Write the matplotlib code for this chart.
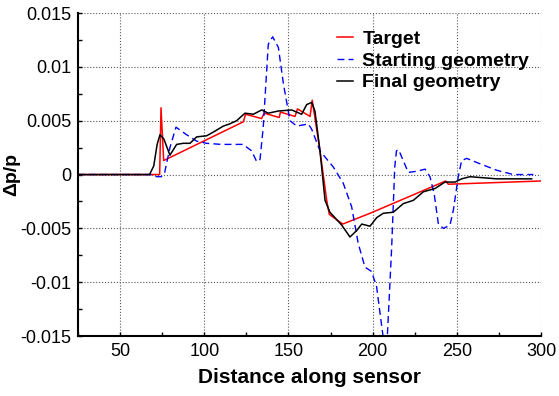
import matplotlib
matplotlib.use("Agg")
import matplotlib.pyplot as plt
from matplotlib.ticker import MultipleLocator, FuncFormatter

plt.rcParams["font.family"] = ["Liberation Sans", "DejaVu Sans"]
plt.rcParams["axes.unicode_minus"] = False

# Target pressure distribution
target_x = [25, 73.5, 74.3, 75.9, 123.2, 124.5, 134.0, 135.5, 144.5, 145.2,
            153.9, 155.3, 162.8, 164.1, 168.7, 172.7, 174.2, 182.2, 198.4,
            243.3, 244.9, 300]
target_y = [0, 0, 0.0062, 0.0013, 0.0049, 0.0056, 0.0052, 0.0057, 0.0053, 0.0058,
            0.0054, 0.0061, 0.0054, 0.0069, 0.0022, -0.0024, -0.0037, -0.0046, -0.0036,
            -0.0006, -0.0009, -0.0006]

# Starting geometry
start_x = [25, 68, 71.7, 74.5, 76.5, 79.6, 83.2, 89.5, 95.5, 101.4, 110, 123,
           128.1, 131.1, 133.1, 135.0, 138.0, 140.6, 144.0, 147.0, 150.9, 154.9,
           161.8, 163.8, 168.7, 176.6, 182.5, 187.5, 191.4, 195.4, 199.3, 202.3,
           205.2, 208.0, 211.2, 213.1, 214.1, 215.4, 221.1, 226.0, 231.1, 234.0,
           236.5, 239.0, 242.0, 245.9, 247.9, 250.8, 252.8, 255.8, 263.7, 273.6,
           283.5, 295.4]
start_y = [0, 0, -0.0002, -0.0002, 0.0002, 0.0025, 0.0044, 0.0037, 0.0031, 0.0029,
           0.0028, 0.0028, 0.0022, 0.0012, 0.0014, 0.0044, 0.0121, 0.0128, 0.0118,
           0.0084, 0.0050, 0.0045, 0.0047, 0.0042, 0.0022, 0.0007, -0.0008, -0.0030,
           -0.0064, -0.0086, -0.0090, -0.0104, -0.0139, -0.0172, -0.0070, 0.0007,
           0.0022, 0.0023, 0.0002, 0.0003, 0.0005, -0.0002, -0.0018, -0.0046, -0.0050,
           -0.0047, -0.0033, -0.0002, 0.0013, 0.0015, 0.0010, 0.0004, 0.0, 0.0]

# Final geometry
final_x = [25, 67.5, 70, 72, 73.7, 76, 79.6, 83.6, 87.5, 91.5, 95.5, 101.4, 106,
           111.3, 115, 119.2, 122, 124.2, 129.1, 134.1, 138.0, 143.9, 151.9, 157.8,
           160.8, 163.8, 165.7, 168.7, 171.7, 174.6, 181.6, 186.5, 190.5, 193.5,
           198.4, 202.4, 206.3, 212.2, 218.2, 224.1, 230.1, 237.0, 242.9, 248.9,
           252.8, 257.8, 273.6, 294.4]
final_y = [0, 0, 0.0008, 0.0028, 0.0037, 0.0033, 0.0018, 0.0028, 0.0029, 0.0029,
           0.0035, 0.0036, 0.0040, 0.0045, 0.0047, 0.0050, 0.0054, 0.0057, 0.0056,
           0.0060, 0.0057, 0.0059, 0.0060, 0.0056, 0.0065, 0.0067, 0.0059, 0.0022,
           -0.0024, -0.0035, -0.0047, -0.0058, -0.0052, -0.0046, -0.0048, -0.0040,
           -0.0036, -0.0035, -0.0027, -0.0024, -0.0016, -0.0013, -0.0007, -0.0007,
           -0.0004, -0.0002, -0.0004, -0.0004]

fig = plt.figure(figsize=(5.59, 3.96), dpi=100)
ax = fig.add_axes([0.1395, 0.1515, 0.968 - 0.1395, 0.967 - 0.1515])

ax.plot(target_x, target_y, color="red", lw=1.1, label="Target")
ax.plot(start_x, start_y, color="blue", lw=1.0, ls=(0, (5, 3)),
        label="Starting geometry")
ax.plot(final_x, final_y, color="black", lw=1.1, label="Final geometry")

ax.set_xlim(25, 300)
ax.set_ylim(-0.015, 0.015)
ax.xaxis.set_major_locator(MultipleLocator(50))
ax.xaxis.set_minor_locator(MultipleLocator(25))
ax.yaxis.set_major_locator(MultipleLocator(0.005))
ax.yaxis.set_minor_locator(MultipleLocator(0.0025))
ax.yaxis.set_major_formatter(FuncFormatter(lambda v, p: f"{round(v, 4):g}"))

ax.tick_params(which="both", direction="in", length=3, width=1, labelsize=13)
ax.tick_params(axis="y", pad=5)
ax.tick_params(axis="x", pad=5)
ax.grid(True, which="major", color="0.35", linestyle=":", lw=0.8)

for side in ("top", "right"):
    ax.spines[side].set_visible(False)
for side in ("left", "bottom"):
    ax.spines[side].set_linewidth(1.5)

ax.set_xlabel("Distance along sensor", fontsize=15, fontweight="bold", labelpad=6)
ax.set_ylabel("Δp/p", fontsize=14, fontweight="bold")
ax.yaxis.set_label_coords(-0.125, 0.5)

ax.legend(loc="upper left", bbox_to_anchor=(0.603, 0.924), bbox_transform=fig.transFigure,
          frameon=False, prop={"weight": "bold", "size": 14},
          handlelength=0.8, handletextpad=0.5, labelspacing=0.22, borderpad=0,
          borderaxespad=0)

fig.savefig("out.png", dpi=100)
